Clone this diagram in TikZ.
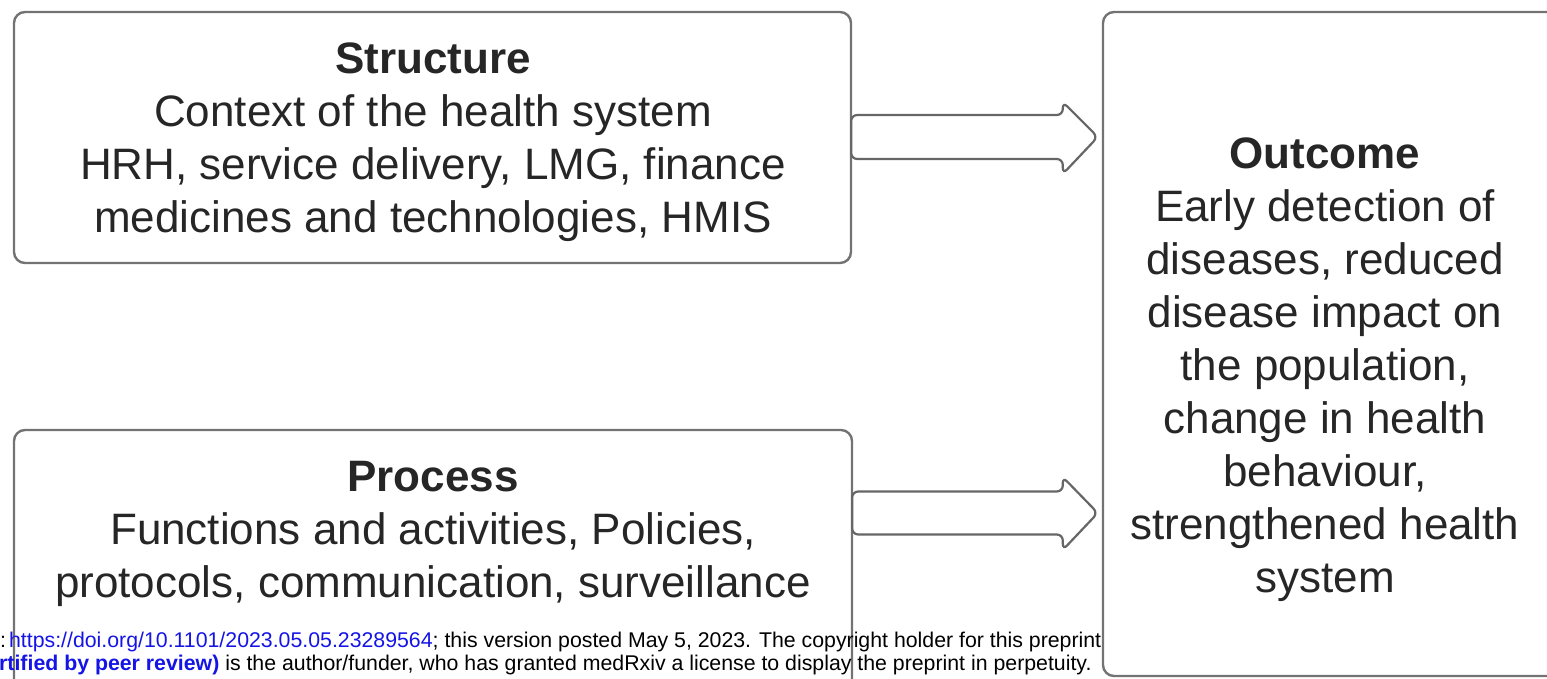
\documentclass[tikz,border=0pt]{standalone}
\usepackage{fontspec}
\usetikzlibrary{calc}
\setmainfont{Liberation Sans}
\begin{document}
\begin{tikzpicture}[x=1pt,y=-1pt,
  box/.style={draw=black!55, line width=2.4pt, rounded corners=11pt},
  btext/.style={inner sep=0pt, align=center, anchor=north, font=\fontsize{44}{53}\selectfont, text=black!85},
  blockarrow/.style={draw=black!60, line width=2.2pt, rounded corners=6pt, fill=white},
  foot/.style={inner sep=0pt, anchor=base west, font=\fontsize{21.3}{24}\selectfont}]
\useasboundingbox (0,0) rectangle (1547,678);
% boxes
\draw[box] (14,12) rectangle (851,263);
\node[inner sep=0pt, minimum width=837pt, minimum height=251pt] (structure) at (432.5,137.5) {};
\draw[box] (14,430) rectangle (852,720);
\node[inner sep=0pt, minimum width=838pt, minimum height=290pt] (process) at (433,575) {};
\draw[box] (1103,12) rectangle (1600,676);
\node[inner sep=0pt, minimum width=497pt, minimum height=664pt] (outcome) at (1351.5,344) {};
% texts
\node[btext] (stext) at (433,43) {\textbf{Structure}\\Context of the health system\\HRH, service delivery, LMG, finance\\medicines and technologies, HMIS};
\node[btext] (ptext) at (433,461.5) {\textbf{Process}\\Functions and activities, Policies,\\protocols, communication, surveillance};
\node[btext] (otext) at (1325,137.5) {\textbf{Outcome}\\Early detection of\\diseases, reduced\\disease impact on\\the population,\\change in health\\behaviour,\\strengthened health\\system};
% block arrows
\coordinate (a1) at (structure.east |- 0,137);
\coordinate (t1) at ($(outcome.west |- a1)+(-5,0)$);
\coordinate (a2) at (process.east |- 0,513);
\coordinate (t2) at ($(outcome.west |- a2)+(-5,0)$);
\draw[blockarrow] ($(a1)+(0,-22)$) -- ($(t1)+(-35,-22)$) -- ($(t1)+(-35,-35)$) -- (t1) -- ($(t1)+(-35,37)$) -- ($(t1)+(-35,22)$) -- ($(a1)+(0,22)$) -- cycle;
\draw[blockarrow] ($(a2)+(0,-21.5)$) -- ($(t2)+(-35,-21.5)$) -- ($(t2)+(-35,-36)$) -- (t2) -- ($(t2)+(-35,37)$) -- ($(t2)+(-35,21.5)$) -- ($(a2)+(0,21.5)$) -- cycle;
% footer
\node[foot] (f1) at (0,647) {:\kern3pt\textcolor[RGB]{20,20,230}{https://doi.org/10.1101/2023.05.05.23289564}; this version posted May 5, 2023. The copyright holder for this preprint};
\node[foot] (f2) at (-1,670) {\textcolor[RGB]{20,20,230}{\textbf{rtified by peer review)}} is the author/funder, who has granted medRxiv a license to display the preprint in perpetuity.};
\end{tikzpicture}
\end{document}
